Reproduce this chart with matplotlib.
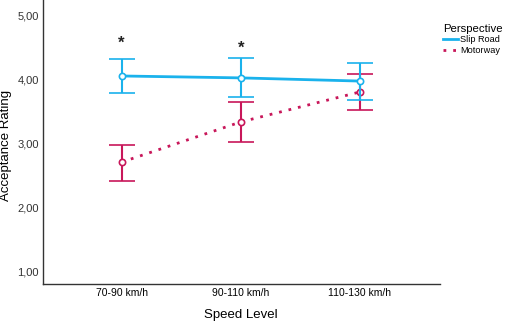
import numpy as np
import matplotlib
matplotlib.use("Agg")
import matplotlib.pyplot as plt
from matplotlib.lines import Line2D

plt.rcParams['font.family'] = ['Liberation Sans', 'DejaVu Sans']

# data
speeds = ["70-90 km/h", "90-110 km/h", "110-130 km/h"]
slip_mean = [4.06, 4.03, 3.98]
slip_lo = [3.80, 3.73, 3.69]
slip_hi = [4.33, 4.34, 4.27]
motor_mean = [2.71, 3.34, 3.81]
motor_lo = [2.42, 3.02, 3.52]
motor_hi = [2.98, 3.66, 4.09]
star_x = [0, 1]
star_y = [4.57, 4.50]
yticks = [1, 2, 3, 4, 5]

c_slip = '#1ab2ec'
c_motor = '#c8175a'

fig = plt.figure(figsize=(5.05, 3.21), dpi=100)
ax = fig.add_axes([0.085, 0.115, 0.786, 0.885])

x = np.arange(len(speeds))

def err(mean, lo, hi):
    m = np.array(mean)
    return [m - np.array(lo), np.array(hi) - m]

ax.errorbar(x, slip_mean, yerr=err(slip_mean, slip_lo, slip_hi), color=c_slip,
            lw=2, elinewidth=1.5, capsize=9.5, capthick=1.5, marker='o', ms=4.5,
            mfc='white', mew=1.2, zorder=3)
ax.errorbar(x, motor_mean, yerr=err(motor_mean, motor_lo, motor_hi), color=c_motor,
            lw=2, ls=(0, (1, 2.5)), elinewidth=1.5, capsize=9.5, capthick=1.5,
            marker='o', ms=4.5, mfc='white', mew=1.2, zorder=2)

for sx, sy in zip(star_x, star_y):
    ax.text(sx, sy, '*', ha='center', va='center', fontsize=12,
            fontweight='bold', color='#222222')

ax.set_xlim(-0.66, 2.67)
ax.set_ylim(0.8, 5.25)
ax.set_xticks(x)
ax.set_xticklabels(speeds, fontsize=7.5)
ax.set_yticks(yticks)
ax.set_yticklabels([f"{v:.2f}".replace('.', ',') for v in yticks], fontsize=8,
                   color='#333333')
ax.tick_params(axis='x', length=0, pad=3)
ax.tick_params(axis='y', length=0, pad=3)
for s in ['top', 'right']:
    ax.spines[s].set_visible(False)
for s in ['left', 'bottom']:
    ax.spines[s].set_color('#333333')
    ax.spines[s].set_linewidth(1)

fig.text(241 / 505, 1 - 315 / 321, 'Speed Level', ha='center', va='center',
         fontsize=9.5)
fig.text(6 / 505, 1 - 145 / 321, 'Acceptance Rating', ha='center', va='center',
         rotation=90, fontsize=9.5)

handles = [Line2D([], [], color=c_slip, lw=2),
           Line2D([], [], color=c_motor, lw=2, ls=(0, (1, 2.5)))]
leg = fig.legend(handles, ['Slip Road', 'Motorway'], title='Perspective',
                 loc='upper left', bbox_to_anchor=(443 / 505, 1 - 24 / 321),
                 frameon=False, fontsize=6.6, title_fontsize=8.2,
                 handlelength=1.6, handletextpad=0.3, labelspacing=0.15,
                 borderaxespad=0, borderpad=0)
leg._legend_box.align = 'left'

fig.savefig('out.png', dpi=100)
